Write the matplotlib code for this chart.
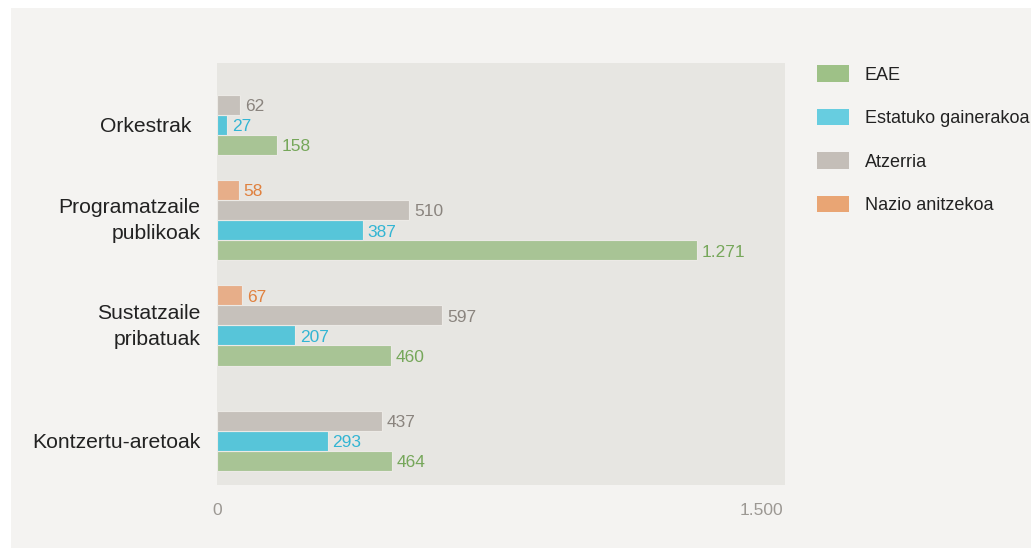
import matplotlib.pyplot as plt
from matplotlib.patches import Patch, Rectangle
from matplotlib.transforms import ScaledTranslation

# Data
categories = ["Orkestrak", "Programatzaile\npublikoak", "Sustatzaile\npribatuak", "Kontzertu-aretoak"]
series = ["EAE", "Estatuko gainerakoa", "Atzerria", "Nazio anitzekoa"]
eae = [158, 1271, 460, 464]
estatuko = [27, 387, 207, 293]
atzerria = [62, 510, 597, 437]
nazio = [None, 58, 67, None]

bar_colors = ["#a8c495", "#57c5d9", "#c6c1bb", "#e7ae89"]
legend_colors = ["#9ec187", "#67cde0", "#c4beb8", "#e9a574"]
text_colors = ["#76a75a", "#33b5d3", "#8a847e", "#e0813f"]

fig = plt.figure(figsize=(10.31, 5.52), dpi=100)
fig.patch.set_facecolor("white")
fig.add_artist(Rectangle((11 / 1031, 1 - 548 / 552), 1, 540 / 552,
                         transform=fig.transFigure, facecolor="#f4f3f1",
                         edgecolor="none", zorder=-10))

ax = fig.add_axes([217 / 1031, 1 - 485 / 552, 568 / 1031, 422 / 552])
ax.set_facecolor("#e7e6e2")

values = [eae, estatuko, atzerria, nazio]
group_step = 5.25
label_pos = []
for g in range(len(categories)):
    base = g * group_step
    present = []
    for s, vals in enumerate(values):
        v = vals[g]
        if v is None:
            continue
        y = base + 3 - s
        present.append(y)
        ax.barh(y, v, height=1.0, color=bar_colors[s], edgecolor="#eceae6", linewidth=0.8)
        lbl = f"{v:,}".replace(",", ".")
        ax.text(v + 12, y + 0.1, lbl, va="center", ha="left", fontsize=12.5,
                color=text_colors[s], family=["Liberation Sans Narrow", "Liberation Sans"])
    label_pos.append(sum(present) / len(present))

ax.set_xlim(0, 1505)
ax.set_ylim(19.95, -1.07)
ax.set_yticks(label_pos)
ax.set_yticklabels(categories, fontsize=15.2, color="#222222", family="Liberation Sans",
                   linespacing=1.45)
ax.set_xticks([0, 1500])
ax.set_xticklabels(["0", "1.500"], fontsize=12.5, color="#9c9893", family="Liberation Sans")
ax.get_xticklabels()[1].set_ha("right")
ax.tick_params(axis="x", length=0, pad=13)
ax.tick_params(axis="y", length=0, pad=17)
for lab in ax.get_yticklabels():
    txt = lab.get_text()
    if "\n" in txt:
        dx, dy = 7, 4.5
    elif txt == "Orkestrak":
        dx, dy = -2, 0
    else:
        dx, dy = 7, 0
    lab.set_transform(lab.get_transform() + ScaledTranslation(dx / 100, dy / 100, fig.dpi_scale_trans))
for sp in ax.spines.values():
    sp.set_visible(False)

handles = [Patch(facecolor=c, edgecolor="none") for c in legend_colors]
leg = fig.legend(handles, series, loc="upper left", bbox_to_anchor=(810 / 1031, 1 - 58 / 552),
                 frameon=False, fontsize=13, handlelength=1.78, handleheight=1.05,
                 handletextpad=0.85, labelspacing=1.38, borderaxespad=0)
for t in leg.get_texts():
    t.set_color("#222222")
    t.set_family("Liberation Sans")

fig.savefig("out.png", dpi=100)
